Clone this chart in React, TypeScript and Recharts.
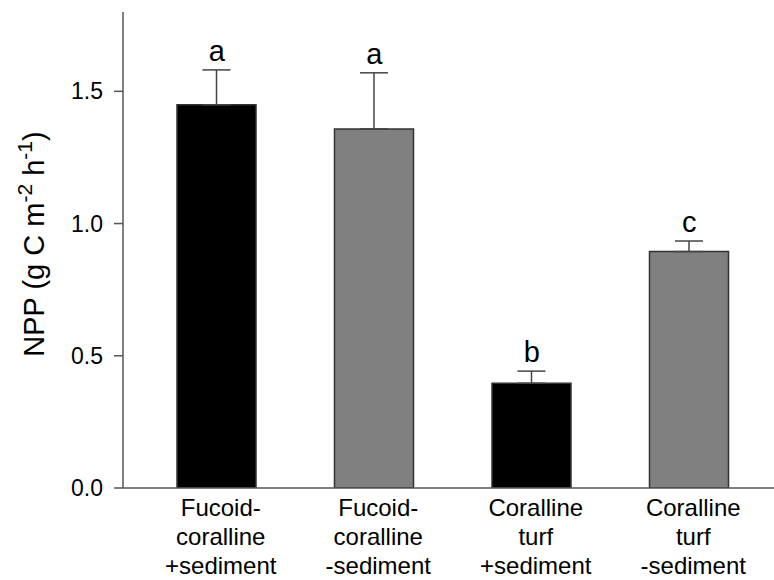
import React from 'react';
import {
  ComposedChart,
  Bar,
  Cell,
  ErrorBar,
  Line,
  LabelList,
  XAxis,
  YAxis,
  Label,
} from 'recharts';

const categories = [
  'Fucoid-\ncoralline\n+sediment',
  'Fucoid-\ncoralline\n-sediment',
  'Coralline\nturf\n+sediment',
  'Coralline\nturf\n-sediment',
];
const nppMeans = [1.449, 1.358, 0.396, 0.894];
const nppSE = [0.132, 0.212, 0.046, 0.04];
const letters = ['a', 'a', 'b', 'c'];
const barFills = ['#000000', '#808080', '#000000', '#808080'];
const yTicks = [0, 0.5, 1.0, 1.5];

const data = categories.map((name, i) => ({
  name,
  npp: nppMeans[i],
  err: [0, nppSE[i]],
  top: nppMeans[i] + nppSE[i],
  letter: letters[i],
}));

const FONT = '"Liberation Sans", Arial, sans-serif';

const CategoryTick = (props: any) => {
  const { x, y, payload } = props;
  const lines = String(payload.value).split('\n');
  return (
    <g transform={`translate(${x + 4},${y})`}>
      <text textAnchor="middle" fontSize={24} fontFamily={FONT} fill="#000">
        {lines.map((line, i) => (
          <tspan key={i} x={0} dy={i === 0 ? 20 : 29}>
            {line}
          </tspan>
        ))}
      </text>
    </g>
  );
};

const YLabel = (props: any) => {
  const { viewBox } = props;
  const cx = viewBox.x + 34;
  const cy = viewBox.y + viewBox.height / 2 - 6;
  return (
    <text
      x={cx}
      y={cy}
      transform={`rotate(-90, ${cx}, ${cy})`}
      textAnchor="middle"
      dominantBaseline="central"
      fontSize={29}
      fontFamily={FONT}
      fill="#000"
    >
      NPP (g C m
      <tspan fontSize={21} dy={-10}>-2</tspan>
      <tspan dy={10}> h</tspan>
      <tspan fontSize={21} dy={-10}>-1</tspan>
      <tspan dy={10}>)</tspan>
    </text>
  );
};

export default function App() {
  return (
    <div style={{ position: 'absolute', left: 0, top: 0, width: 774, height: 580, background: '#fff' }}>
      <ComposedChart
        width={774}
        height={580}
        data={data}
        margin={{ top: 12, right: 0, left: 0, bottom: 0 }}
      >
        <XAxis
          dataKey="name"
          height={92}
          interval={0}
          padding={{ left: 15, right: 6 }}
          tickLine={false}
          axisLine={{ stroke: '#555', strokeWidth: 1.5 }}
          tick={<CategoryTick />}
        />
        <YAxis
          width={123}
          domain={[0, 1.8]}
          ticks={yTicks}
          allowDataOverflow
          tickFormatter={(v: number) => v.toFixed(1)}
          tick={{ fontSize: 23, fill: '#000', fontFamily: FONT }}
          tickSize={9}
          tickMargin={11}
          tickLine={{ stroke: '#555', strokeWidth: 1.5 }}
          axisLine={{ stroke: '#555', strokeWidth: 1.5 }}
        >
          <Label content={<YLabel />} />
        </YAxis>
        <Bar dataKey="npp" barSize={79} isAnimationActive={false}>
          {data.map((d, i) => (
            <Cell key={i} fill={barFills[i]} stroke="#333" strokeWidth={1.5} />
          ))}
          <ErrorBar dataKey="err" width={14} stroke="#444" strokeWidth={1.5} direction="y" />
        </Bar>
        <Line
          dataKey="top"
          stroke="none"
          dot={false}
          activeDot={false}
          legendType="none"
          isAnimationActive={false}
        >
          <LabelList dataKey="letter" position="top" offset={9} fill="#000" fontSize={29} fontFamily={FONT} />
        </Line>
      </ComposedChart>
    </div>
  );
}
